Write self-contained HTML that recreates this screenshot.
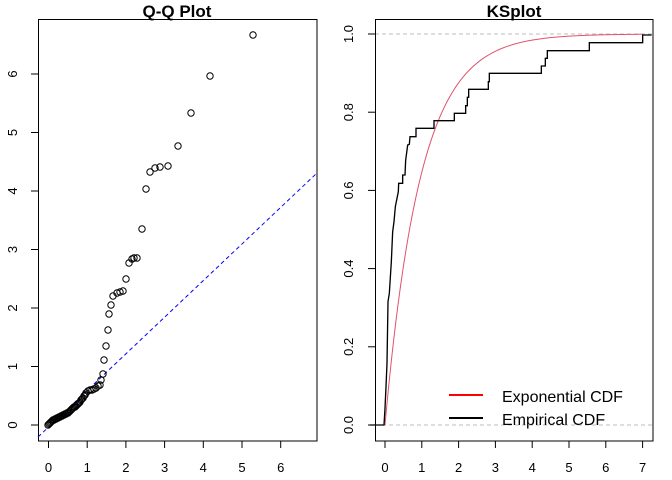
<!DOCTYPE html>
<html><head><style>
body{margin:0;background:#fff}
svg{display:block}
text{font-family:"Liberation Sans",Arial,sans-serif;fill:#000}
</style></head><body>
<svg width="672" height="480" xmlns="http://www.w3.org/2000/svg">
<!-- Left plot -->
<text x="177" y="17" font-size="17" font-weight="bold" text-anchor="middle">Q-Q Plot</text>
<rect x="38.5" y="19.5" width="278.5" height="421.5" fill="none" stroke="#000" stroke-width="1"/>
<line x1="38" y1="437" x2="317" y2="173" stroke="#0000ff" stroke-dasharray="4,3" stroke-width="1"/>
<g id="xt1" stroke="#000"></g>
<g id="yt1" stroke="#000"></g>
<g id="pts" fill="none" stroke="#000" stroke-width="1"></g>
<!-- Right plot -->
<text x="514" y="17" font-size="17" font-weight="bold" text-anchor="middle">KSplot</text>
<line x1="375" y1="34" x2="653" y2="34" stroke="#bebebe" stroke-dasharray="4,3"/>
<line x1="375" y1="425" x2="653" y2="425" stroke="#bebebe" stroke-dasharray="4,3"/>
<rect x="375.5" y="19.5" width="277.5" height="421.5" fill="none" stroke="#000" stroke-width="1"/>
<g id="xt2" stroke="#000"></g>
<g id="yt2" stroke="#000"></g>
<polyline id="exp" fill="none" stroke="#DF536B" stroke-width="1"/>
<g transform="translate(370,20) scale(0.33333)">
<polyline fill="none" stroke="#000" stroke-width="4" points="0,1215 42,1215 45,1165 48,1100 51,1030 54,845 58,820 64,725 68,635 72,605 76,560 80,540 85,515 86,490 98,490 98,465 105,465 107,420 110,398 113,375 118,373 120,350 138,350 138,325 192,325 192,302 253,302 253,280 287,280 287,257 292,257 292,232 296,232 296,208 355,208 355,185 358,185 358,160 514,160 514,138 526,138 526,115 532,115 532,92 658,92 658,68 818,68 818,45 845,45"/>
</g>
<line x1="449" y1="395" x2="483" y2="395" stroke="#ff0000" stroke-width="2"/>
<line x1="449" y1="418" x2="483" y2="418" stroke="#000" stroke-width="2"/>
<text x="502" y="402" font-size="16">Exponential CDF</text>
<text x="502" y="425" font-size="16">Empirical CDF</text>
</svg>
<script>
var NS="http://www.w3.org/2000/svg";
function el(p,t,a,txt){var e=document.createElementNS(NS,t);for(var k in a)e.setAttribute(k,a[k]);if(txt!==undefined)e.textContent=txt;document.getElementById(p).appendChild(e);return e;}
for(var i=0;i<=6;i++){var x=48.5+38.7*i;el("xt1","line",{x1:x,y1:441,x2:x,y2:448});el("xt1","text",{x:x,y:472,"font-size":13,"text-anchor":"middle",stroke:"none"},i);}
for(var i=0;i<=6;i++){var y=425-58.5*i;el("yt1","line",{x1:31,y1:y,x2:38,y2:y});el("yt1","text",{x:0,y:0,"font-size":13,"text-anchor":"middle",stroke:"none",transform:"translate(17,"+y+") rotate(-90)"},i);}
for(var i=0;i<=7;i++){var x=385+36.8*i;el("xt2","line",{x1:x,y1:441,x2:x,y2:448});el("xt2","text",{x:x,y:472,"font-size":13,"text-anchor":"middle",stroke:"none"},i);}
for(var i=0;i<=5;i++){var y=425-78.2*i;el("yt2","line",{x1:368,y1:y,x2:375,y2:y});el("yt2","text",{x:0,y:0,"font-size":13,"text-anchor":"middle",stroke:"none",transform:"translate(353,"+y+") rotate(-90)"},(i*0.2).toFixed(1));}
var P=[[253,35],[210,76],[191,113],[178,146],[168,166],[160,167],[155,168],[150,172],[146,189],[142,229],[137,258],[134,258],[132,259],[129,263],[126,279],[123,291],[120,292],[117,293],[113,296],[111,305],[109,314],[108,330],[106,346],[104,360],[103,374],[101,380],[100,385],[98,386],[96,388],[94,389],[92,390],[90,390],[88,391],[86,393],[85,395],[84,396],[83,398],[82,399],[81,400],[80,402],[79,403],[78,404],[77,405],[76,406],[75,407],[74,407],[73,408],[72,409],[71,410],[70,411],[69,412],[68,413],[67,413],[66,414],[65,414],[64,415],[63,415],[62,416],[61,416],[60,417],[59,417],[58,418],[57,418],[56,419],[55,419],[54,420],[53,420],[52,421],[51,422],[50,423],[49,424],[48,425]];
P.forEach(function(p){el("pts","circle",{cx:p[0],cy:p[1],r:3.2});});
var s="";for(var i=0;i<=300;i++){var v=7*i/300;var x=385+36.8*v;var y=425-391*(1-Math.exp(-1.04*v));s+=x.toFixed(2)+","+y.toFixed(2)+" ";}
document.getElementById("exp").setAttribute("points",s);
</script>
</body></html>
